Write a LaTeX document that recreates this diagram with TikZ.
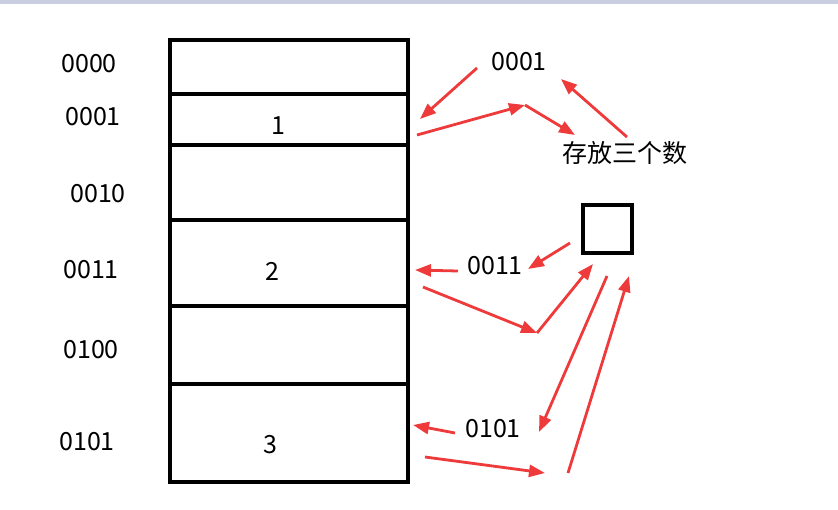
\documentclass[tikz,border=0pt]{standalone}
\usepackage{fontspec}
\setmainfont{Noto Sans CJK SC}
\usetikzlibrary{arrows.meta}
\definecolor{arrowred}{RGB}{238,58,58}
\definecolor{barblue}{RGB}{200,206,224}
\begin{document}
\begin{tikzpicture}[x=1pt, y=-1pt,
  txt/.style={inner sep=0pt, font=\fontsize{25}{30}\selectfont},
  cell/.style={draw, line width=4pt, minimum width=238pt, inner sep=0pt, anchor=north west},
  pointer/.style={draw=arrowred, line width=2.8pt, -{Triangle[length=16pt,width=12pt]}}]
\useasboundingbox (0,0) rectangle (838,509);
\fill[barblue] (0,0) rectangle (838,4);
% memory cells
\node (c0)[cell, minimum height=54pt] at (168,38) {};
\node (c1)[cell, minimum height=51pt] at (168,92) {};
\node (c2)[cell, minimum height=75pt] at (168,143) {};
\node (c3)[cell, minimum height=86pt] at (168,218) {};
\node (c4)[cell, minimum height=78pt] at (168,304) {};
\node (c5)[cell, minimum height=98pt] at (168,382) {};
\node (v1)[txt] at (278,126) {1};
\node (v2)[txt] at (272,271) {2};
\node (v3)[txt] at (270,445) {3};
% addresses
\node (a0)[txt] at (89,64) {0000};
\node (a1)[txt] at (93,117) {0001};
\node (a2)[txt] at (98,194) {0010};
\node (a3)[txt] at (91,270) {0011};
\node (a4)[txt] at (91,350) {0100};
\node (a5)[txt] at (87,442) {0101};
% right side
\node (p1)[txt] at (519,62) {0001};
\node (note)[txt] at (625,153) {存放三个数};
\node (box)[draw, line width=4pt, minimum width=49pt, minimum height=48pt] at (607,229) {};
\node (p3)[txt] at (495,266) {0011};
\node (p5)[txt] at (493,429) {0101};
% arrow ends
\coordinate (t1) at (477,68);  \coordinate (h1) at (420,119);
\coordinate (t2) at (417,135); \coordinate (h2) at (525,105);
\coordinate (h3) at (575,135);
\coordinate (t4) at (627,137); \coordinate (h4) at (561,79);
\coordinate (t5) at (570,243); \coordinate (h5) at (528,269);
\coordinate (t6) at (458,271); \coordinate (h6) at (415,270);
\coordinate (t7) at (423,287); \coordinate (h7) at (537,333);
\coordinate (h8) at (593,264);
\coordinate (t9) at (607,276); \coordinate (h9) at (539,432);
\coordinate (t10) at (568,473); \coordinate (h10) at (629,276);
\coordinate (t11) at (455,433); \coordinate (h11) at (413,425);
\coordinate (t12) at (425,457); \coordinate (h12) at (545,473);
\draw[pointer] (t1) -- (h1);
\draw[pointer] (t2) -- (h2);
\draw[pointer] (h2) -- (h3);
\draw[pointer] (t4) -- (h4);
\draw[pointer] (t5) -- (h5);
\draw[pointer] (t6) -- (h6);
\draw[pointer] (t7) -- (h7);
\draw[pointer] (h7) -- (h8);
\draw[pointer] (t9) -- (h9);
\draw[pointer] (t10) -- (h10);
\draw[pointer] (t11) -- (h11);
\draw[pointer] (t12) -- (h12);
\end{tikzpicture}
\end{document}
